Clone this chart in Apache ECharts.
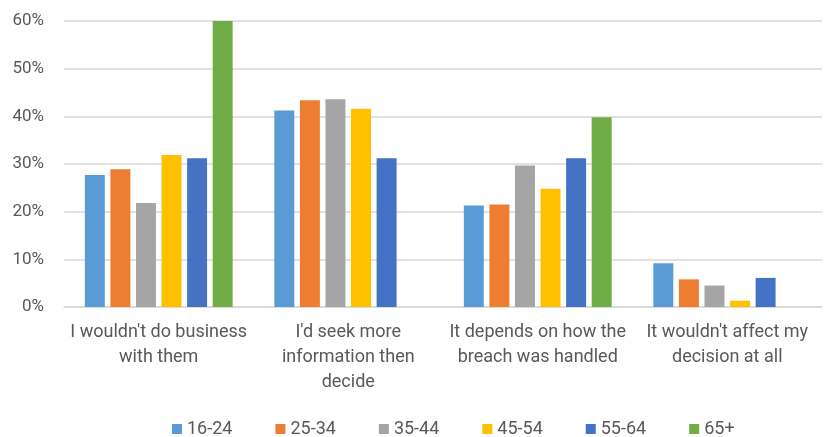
<!DOCTYPE html>
<html>
<head>
<meta charset="utf-8">
<script src="https://cdn.jsdelivr.net/npm/echarts@6/dist/echarts.min.js"></script>
<style>
  html, body { margin: 0; padding: 0; background: #fff; }
  #chart { width: 824px; height: 437px; }
</style>
</head>
<body>
<div id="chart"></div>
<script>
// categories (line breaks as in the picture)
const categories = [
  "I wouldn't do business\nwith them",
  "I'd seek more\ninformation then\ndecide",
  "It depends on how the\nbreach was handled",
  "It wouldn't affect my\ndecision at all"
];
const ageGroups = ['16-24', '25-34', '35-44', '45-54', '55-64', '65+'];
const colors = ['#5B9BD5', '#ED7D31', '#A5A5A5', '#FFC000', '#4472C4', '#70AD47'];

// percentages per age group, one value per category
const age16_24 = [27.7, 41.2, 21.3, 9.2];
const age25_34 = [28.9, 43.4, 21.5, 5.8];
const age35_44 = [21.8, 43.6, 29.7, 4.5];
const age45_54 = [31.9, 41.6, 24.8, 1.3];
const age55_64 = [31.2, 31.2, 31.2, 6.1];
const age65plus = [60.0, 0, 39.8, 0];

const yTicks = { min: 0, max: 60, interval: 10 };

const seriesValues = [age16_24, age25_34, age35_44, age45_54, age55_64, age65plus];
const font = "Roboto, 'Open Sans', sans-serif";

const chart = echarts.init(document.getElementById('chart'));
chart.setOption({
  animation: false,
  color: colors,
  grid: { left: 64, right: 2, top: 21, bottom: 130 },
  legend: {
    data: ageGroups,
    top: 420,
    left: 167,
    padding: [0, 5],
    icon: 'rect',
    itemWidth: 10,
    itemHeight: 10,
    itemGap: 43,
    textStyle: { color: '#595959', fontSize: 18, fontFamily: font }
  },
  xAxis: {
    type: 'category',
    data: categories,
    axisLine: { lineStyle: { color: '#d9d9d9', width: 1.5 } },
    axisTick: { show: false },
    axisLabel: {
      color: '#595959', fontSize: 18, fontFamily: font,
      lineHeight: 25, margin: 13, interval: 0
    }
  },
  yAxis: {
    type: 'value',
    min: yTicks.min,
    max: yTicks.max,
    interval: yTicks.interval,
    axisLine: { show: false },
    axisTick: { show: false },
    axisLabel: {
      formatter: '{value}%',
      color: '#595959', fontSize: 17, fontFamily: font, margin: 20
    },
    splitLine: { lineStyle: { color: '#d9d9d9', width: 1.5 } }
  },
  series: ageGroups.map((name, i) => ({
    name: name,
    type: 'bar',
    data: seriesValues[i],
    barGap: '28%',
    barCategoryGap: '22%'
  }))
});
</script>
</body>
</html>
